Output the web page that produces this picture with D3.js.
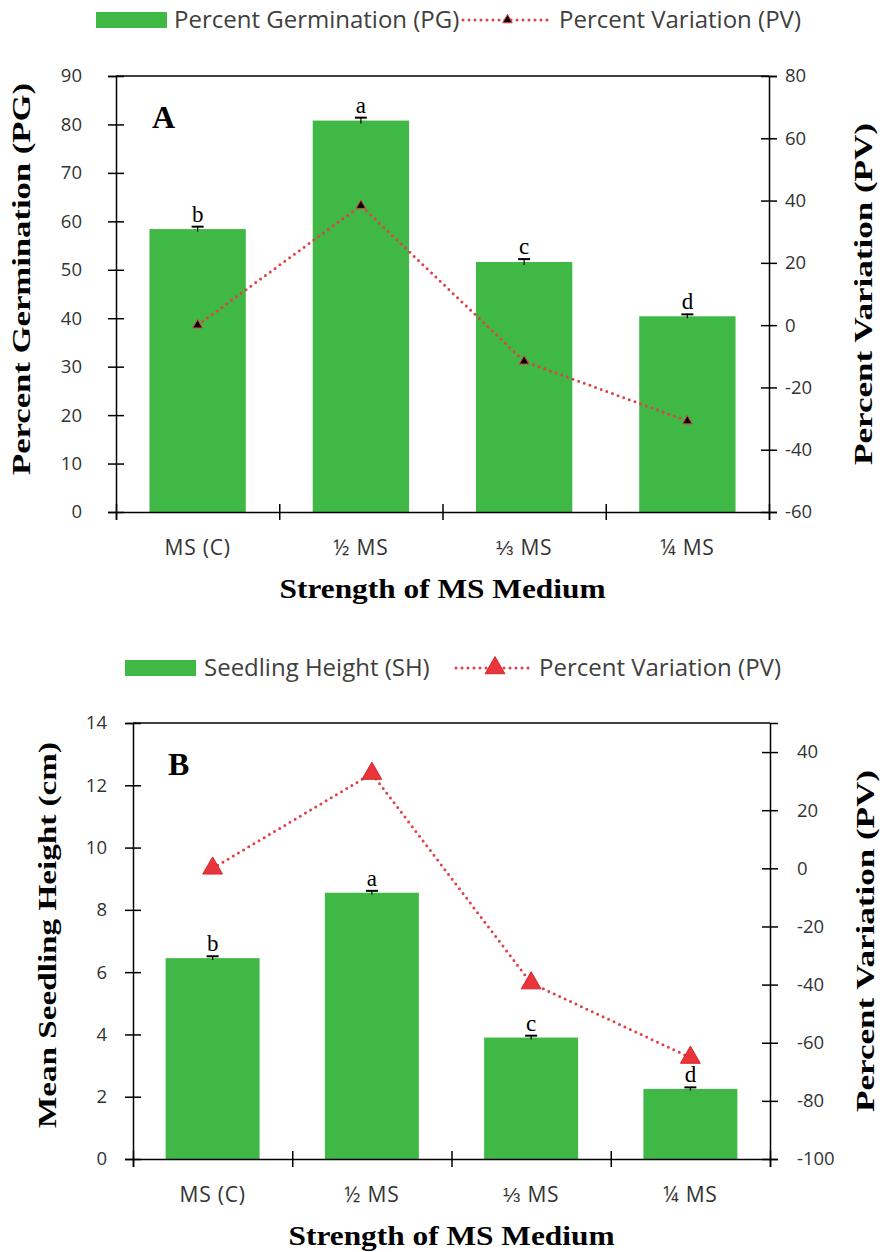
<!DOCTYPE html>
<html>
<head>
<meta charset="utf-8">
<script src="https://cdn.jsdelivr.net/npm/d3@7"></script>
<style>
  body { margin: 0; background: #fff; }
  svg { display: block; }
  .tick text { font-family: "Open Sans", sans-serif; fill: #333; }
</style>
</head>
<body>
<div class="visholder"></div>
<script>
let width = 882,
    height = 1252;

const categories = ["MS (C)", "½ MS", "⅓ MS", "¼ MS"];

// panel A
const germination = [58.4, 80.8, 51.6, 40.4];
const germinationErr = [0.5, 0.6, 0.6, 0.4];
const germinationPV = [0, 38.4, -11.6, -30.8];
const germinationLetters = ["b", "a", "c", "d"];
const germTicks = [0, 10, 20, 30, 40, 50, 60, 70, 80, 90];
const pvTicksA = [-60, -40, -20, 0, 20, 40, 60, 80];

// panel B
const seedlingHeight = [6.45, 8.55, 3.9, 2.25];
const heightErr = [0.06, 0.06, 0.06, 0.05];
const heightPV = [0, 32.6, -39.5, -65.1];
const heightLetters = ["b", "a", "c", "d"];
const heightTicks = [0, 2, 4, 6, 8, 10, 12, 14];
const pvTicksB = [-100, -80, -60, -40, -20, 0, 20, 40];

const green = "#3fb846",
    red = "#e0404a";

var svg = d3.select(".visholder")
    .append("svg")
    .attr("width", width)
    .attr("height", height);

svg.append("rect").attr("width", width).attr("height", height).attr("fill", "#fff");

// plain hyphen for negatives, like the original
var plain = function (d) { return String(d); };

function drawPanel(o) {
    var g = svg.append("g");

    var x = d3.scaleBand().domain(categories).range([o.left, o.right]).paddingInner(0.41).paddingOuter(0.205);
    var xEdges = d3.scaleLinear().domain([0, categories.length]).range([o.left, o.right]);
    var y = d3.scaleLinear().domain(o.yDomain).range([o.bottom, o.top]);
    var y2 = d3.scaleLinear().domain(o.y2Domain).range([o.bottom, o.top]);

    // top frame line
    g.append("line")
        .attr("x1", o.left).attr("x2", o.right)
        .attr("y1", o.top).attr("y2", o.top)
        .attr("stroke", "#000").attr("stroke-width", 1.5);

    // bars
    g.selectAll(".bar")
        .data(o.values)
        .enter()
        .append("rect")
        .attr("class", "bar")
        .attr("x", function (d, i) { return x(categories[i]); })
        .attr("width", x.bandwidth())
        .attr("y", function (d) { return y(d); })
        .attr("height", function (d) { return y(0) - y(d); })
        .attr("fill", green);

    // error bars
    var err = g.selectAll(".err")
        .data(o.values)
        .enter()
        .append("g")
        .attr("class", "err")
        .attr("transform", function (d, i) { return `translate(${x(categories[i]) + x.bandwidth() / 2},0)`; });
    err.append("line")
        .attr("y1", function (d, i) { return y(d - o.errors[i]); })
        .attr("y2", function (d, i) { return y(d + o.errors[i]); })
        .attr("stroke", "#000").attr("stroke-width", 1.2);
    err.append("line")
        .attr("x1", -6).attr("x2", 6)
        .attr("y1", function (d, i) { return y(d + o.errors[i]); })
        .attr("y2", function (d, i) { return y(d + o.errors[i]); })
        .attr("stroke", "#000").attr("stroke-width", 2);

    // significance letters
    g.selectAll(".sig")
        .data(o.values)
        .enter()
        .append("text")
        .attr("class", "sig")
        .attr("x", function (d, i) { return x(categories[i]) + x.bandwidth() / 2; })
        .attr("y", function (d, i) { return y(d + o.errors[i]) - 5; })
        .attr("text-anchor", "middle")
        .style("font-family", "Liberation Serif, serif")
        .style("font-size", "23px")
        .text(function (d, i) { return o.letters[i]; });

    // axes
    var leftAxis = d3.axisLeft(y).tickValues(o.yTicks).tickFormat(plain).tickSize(8).tickPadding(o.leftPad);
    var la = g.append("g")
        .attr("transform", `translate(${o.left},0)`)
        .call(leftAxis);
    la.selectAll(".tick line").attr("x1", 8);
    la.selectAll(".tick text").style("font-size", "18.5px");

    var rightAxis = d3.axisRight(y2).tickValues(o.y2Ticks).tickFormat(plain).tickSize(8).tickPadding(o.rightPad);
    var ra = g.append("g")
        .attr("transform", `translate(${o.right},0)`)
        .call(rightAxis);
    ra.selectAll(".tick line").attr("x1", -8);
    ra.selectAll(".tick text").style("font-size", "18.5px");

    var edgeAxis = d3.axisBottom(xEdges).ticks(categories.length).tickSize(8).tickFormat("");
    var ea = g.append("g")
        .attr("transform", `translate(0,${o.bottom})`)
        .call(edgeAxis);
    ea.selectAll(".tick line").attr("y1", -8);

    var bottomAxis = d3.axisBottom(x).tickSize(0).tickPadding(o.xPad);
    var ba = g.append("g")
        .attr("transform", `translate(0,${o.bottom})`)
        .call(bottomAxis);
    ba.select(".domain").remove();
    ba.selectAll(".tick text").style("font-size", "21px").style("letter-spacing", "0.8px");

    g.selectAll(".domain").attr("stroke", "#000").attr("stroke-width", 1.5);
    g.selectAll(".tick line").attr("stroke", "#000").attr("stroke-width", 1.5);

    // percent variation line
    var line = d3.line()
        .x(function (d, i) { return x(categories[i]) + x.bandwidth() / 2; })
        .y(function (d) { return y2(d); });
    g.append("path")
        .datum(o.pv)
        .attr("d", line)
        .attr("fill", "none")
        .attr("stroke", red)
        .attr("stroke-width", 3)
        .attr("stroke-linecap", "round")
        .attr("stroke-dasharray", "0,6");

    var tri = d3.symbol().type(d3.symbolTriangle).size(o.triSize);
    g.selectAll(".pv")
        .data(o.pv)
        .enter()
        .append("path")
        .attr("class", "pv")
        .attr("d", tri)
        .attr("transform", function (d, i) { return `translate(${x(categories[i]) + x.bandwidth() / 2},${y2(d)})`; })
        .attr("fill", o.triFill)
        .attr("stroke", o.triStroke)
        .attr("stroke-width", 1);

    // panel letter
    g.append("text")
        .attr("x", o.left + o.tagDx)
        .attr("y", o.top + 52)
        .style("font-family", "Liberation Serif, serif")
        .style("font-weight", "bold")
        .style("font-size", "32px")
        .text(o.tag);

    // titles
    g.append("text")
        .attr("x", (o.left + o.right) / 2)
        .attr("y", o.bottom + 86)
        .attr("text-anchor", "middle")
        .attr("textLength", 326)
        .attr("lengthAdjust", "spacingAndGlyphs")
        .style("font-family", "Liberation Serif, serif")
        .style("font-weight", "bold")
        .style("font-size", "27px")
        .text("Strength of MS Medium");

    g.append("text")
        .attr("transform", `translate(${o.leftTitleX},${o.leftTitleY}) rotate(-90)`)
        .attr("text-anchor", "middle")
        .attr("textLength", o.leftTitleLen)
        .attr("lengthAdjust", "spacingAndGlyphs")
        .style("font-family", "Liberation Serif, serif")
        .style("font-weight", "bold")
        .style("font-size", "25px")
        .text(o.leftTitle);

    g.append("text")
        .attr("transform", `translate(${o.rightTitleX},${(o.top + o.bottom) / 2}) rotate(-90)`)
        .attr("text-anchor", "middle")
        .attr("textLength", 342)
        .attr("lengthAdjust", "spacingAndGlyphs")
        .style("font-family", "Liberation Serif, serif")
        .style("font-weight", "bold")
        .style("font-size", "25px")
        .text("Percent Variation (PV)");

    // legend
    var lg = svg.append("g").attr("transform", `translate(0,${o.legendY})`);
    lg.append("rect")
        .attr("x", o.legend[0]).attr("y", -8)
        .attr("width", 71).attr("height", 16)
        .attr("fill", green);
    lg.append("text")
        .attr("x", o.legend[1]).attr("y", 0).attr("dy", "0.35em")
        .style("font-family", "Open Sans, sans-serif")
        .style("font-size", "24px")
        .style("fill", "#404040")
        .text(o.legendBar);
    lg.append("line")
        .attr("x1", o.legend[2]).attr("x2", o.legend[3])
        .attr("stroke", red).attr("stroke-width", 3)
        .attr("stroke-linecap", "round")
        .attr("stroke-dasharray", "0,6");
    lg.append("path")
        .attr("d", d3.symbol().type(d3.symbolTriangle).size(o.triSize)())
        .attr("transform", `translate(${(o.legend[2] + o.legend[3]) / 2},0)`)
        .attr("fill", o.triFill)
        .attr("stroke", o.triStroke);
    lg.append("text")
        .attr("x", o.legend[4]).attr("y", 0).attr("dy", "0.35em")
        .style("font-family", "Open Sans, sans-serif")
        .style("font-size", "24px")
        .style("fill", "#404040")
        .text("Percent Variation (PV)");
}

drawPanel({
    left: 116, right: 769, top: 76, bottom: 512,
    yDomain: [0, 90], y2Domain: [-60, 80],
    yTicks: germTicks, y2Ticks: pvTicksA,
    values: germination, errors: germinationErr, pv: germinationPV, letters: germinationLetters,
    leftPad: 26, rightPad: 8, xPad: 28,
    triSize: 40, triFill: "#000", triStroke: red,
    tag: "A", tagDx: 36,
    leftTitle: "Percent Germination (PG)", leftTitleX: 30, leftTitleY: 279, leftTitleLen: 392,
    rightTitleX: 872,
    legendY: 20, legend: [96, 174, 463, 552, 559],
    legendBar: "Percent Germination (PG)"
});

drawPanel({
    left: 133, right: 770, top: 723, bottom: 1159,
    yDomain: [0, 14], y2Domain: [-100, 50],
    yTicks: heightTicks, y2Ticks: pvTicksB,
    values: seedlingHeight, errors: heightErr, pv: heightPV, letters: heightLetters,
    leftPad: 18, rightPad: 19, xPad: 28,
    triSize: 170, triFill: "#e8343a", triStroke: "#d02a30",
    tag: "B", tagDx: 35,
    leftTitle: "Mean Seedling Height (cm)", leftTitleX: 56, leftTitleY: 935, leftTitleLen: 386,
    rightTitleX: 874,
    legendY: 668, legend: [125, 204, 456, 534, 539],
    legendBar: "Seedling Height (SH)"
});
</script>
</body>
</html>
